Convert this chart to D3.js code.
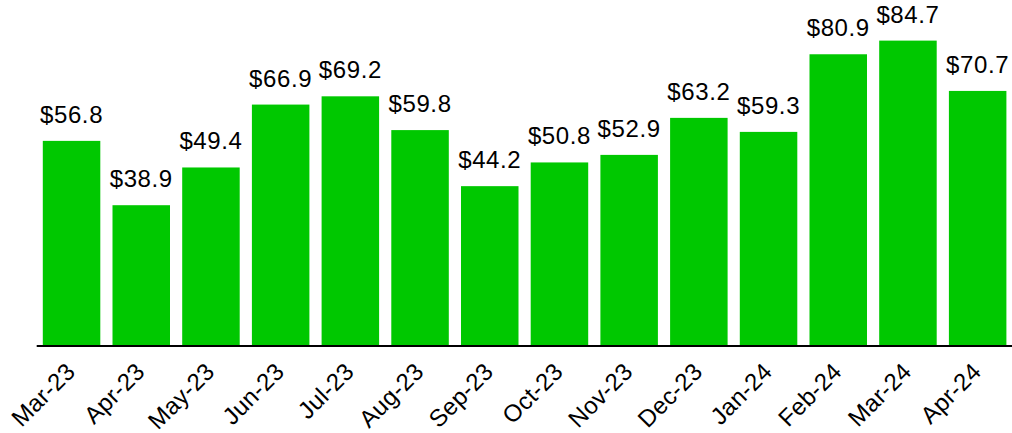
<!DOCTYPE html>
<html>
<head>
<meta charset="utf-8">
<script src="https://cdn.jsdelivr.net/npm/d3@7"></script>
<style>
  body { margin: 0; background: #fff; }
  text { font-family: "Liberation Sans", Arial, Helvetica, sans-serif; fill: #000; }
</style>
</head>
<body>
<div id="chart"></div>
<script>
let months = ["Mar-23", "Apr-23", "May-23", "Jun-23", "Jul-23", "Aug-23", "Sep-23",
              "Oct-23", "Nov-23", "Dec-23", "Jan-24", "Feb-24", "Mar-24", "Apr-24"];
let values = [56.8, 38.9, 49.4, 66.9, 69.2, 59.8, 44.2, 50.8, 52.9, 63.2, 59.3, 80.9, 84.7, 70.7];

let width = 1012;
let height = 433;
let baseline = 345;

let svg = d3.select("#chart")
    .append("svg")
    .attr("width", width)
    .attr("height", height);

let xScale = d3.scaleBand()
    .domain(months)
    .range([36.7, 1012.5])
    .paddingInner(0.175)
    .paddingOuter(0.0875);

let yScale = d3.scaleLinear()
    .domain([0, 96])
    .range([baseline, 0]);

svg.selectAll("rect.bar")
    .data(values)
    .enter()
    .append("rect")
    .attr("class", "bar")
    .attr("x", (d, i) => xScale(months[i]))
    .attr("y", d => yScale(d))
    .attr("width", xScale.bandwidth())
    .attr("height", d => yScale(0) - yScale(d))
    .attr("fill", "#00c800");

svg.selectAll("text.value")
    .data(values)
    .enter()
    .append("text")
    .attr("class", "value")
    .attr("x", (d, i) => xScale(months[i]) + xScale.bandwidth() / 2)
    .attr("y", d => yScale(d) - 18)
    .attr("text-anchor", "middle")
    .style("font-size", "24px")
    .style("letter-spacing", "0.6px")
    .text(d => "$" + d.toFixed(1));

// x axis: only the domain line, ticks hidden
let xAxis = d3.axisBottom(xScale).tickSize(0).tickPadding(0);

let axisG = svg.append("g")
    .attr("transform", "translate(0," + (baseline + 1) + ")")
    .call(xAxis);

axisG.select(".domain")
    .attr("stroke", "#000")
    .attr("stroke-width", 2)
    .attr("d", "M36.7,0H1012");

axisG.selectAll(".tick text")
    .attr("y", 0)
    .attr("dy", 0)
    .attr("text-anchor", "end")
    .attr("transform", "translate(5,27) rotate(-45)")
    .style("font-size", "24px")
    .style("letter-spacing", "0.3px")
    .style("font-family", "\"Liberation Sans\", Arial, Helvetica, sans-serif")
    .attr("fill", "#000");
</script>
</body>
</html>
